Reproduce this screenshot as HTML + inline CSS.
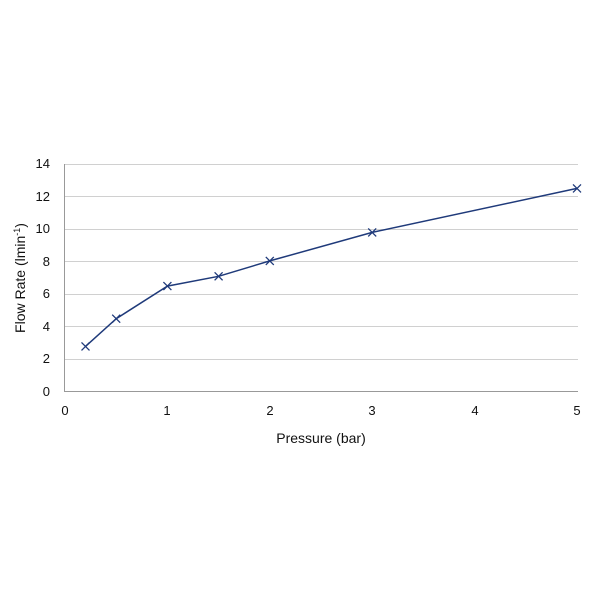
<!DOCTYPE html>
<html><head><style>body{margin:0;background:#fff}</style></head><body>
<svg width="600" height="600" xmlns="http://www.w3.org/2000/svg" font-family="Liberation Sans, sans-serif" font-size="13" fill="#111">
<g stroke="#d0d0d0" stroke-width="1">
<line x1="65" y1="164.5" x2="578" y2="164.5"/>
<line x1="65" y1="196.5" x2="578" y2="196.5"/>
<line x1="65" y1="229.5" x2="578" y2="229.5"/>
<line x1="65" y1="261.5" x2="578" y2="261.5"/>
<line x1="65" y1="294.5" x2="578" y2="294.5"/>
<line x1="65" y1="326.5" x2="578" y2="326.5"/>
<line x1="65" y1="359.5" x2="578" y2="359.5"/>
</g>
<line x1="64.5" y1="164" x2="64.5" y2="392" stroke="#999"/>
<line x1="64" y1="391.5" x2="578" y2="391.5" stroke="#999"/>
<g text-anchor="end">
<text x="50" y="168">14</text><text x="50" y="201">12</text><text x="50" y="233">10</text>
<text x="50" y="266">8</text><text x="50" y="298">6</text><text x="50" y="331">4</text>
<text x="50" y="363">2</text><text x="50" y="396">0</text>
</g>
<g text-anchor="middle">
<text x="65" y="415">0</text><text x="167" y="415">1</text><text x="270" y="415">2</text>
<text x="372" y="415">3</text><text x="475" y="415">4</text><text x="577" y="415">5</text>
<text x="321" y="443" font-size="14">Pressure (bar)</text>
</g>
<text transform="translate(25,278) rotate(-90)" text-anchor="middle" font-size="14">Flow Rate (lmin<tspan font-size="9" dy="-5">-1</tspan><tspan dy="5">)</tspan></text>
<polyline fill="none" stroke="#1f3a7a" stroke-width="1.5" points="85.5,346.4 116.2,318.7 167.4,286.1 218.6,276.3 269.8,260.9 372.2,232.4 577,188.4"/>
<g stroke="#1f3a7a" stroke-width="1.3">
<path d="M81.5,342.4l8,8M89.5,342.4l-8,8"/>
<path d="M112.2,314.7l8,8M120.2,314.7l-8,8"/>
<path d="M163.4,282.1l8,8M171.4,282.1l-8,8"/>
<path d="M214.6,272.3l8,8M222.6,272.3l-8,8"/>
<path d="M265.8,256.9l8,8M273.8,256.9l-8,8"/>
<path d="M368.2,228.4l8,8M376.2,228.4l-8,8"/>
<path d="M573,184.4l8,8M581,184.4l-8,8"/>
</g>
</svg>
</body></html>
